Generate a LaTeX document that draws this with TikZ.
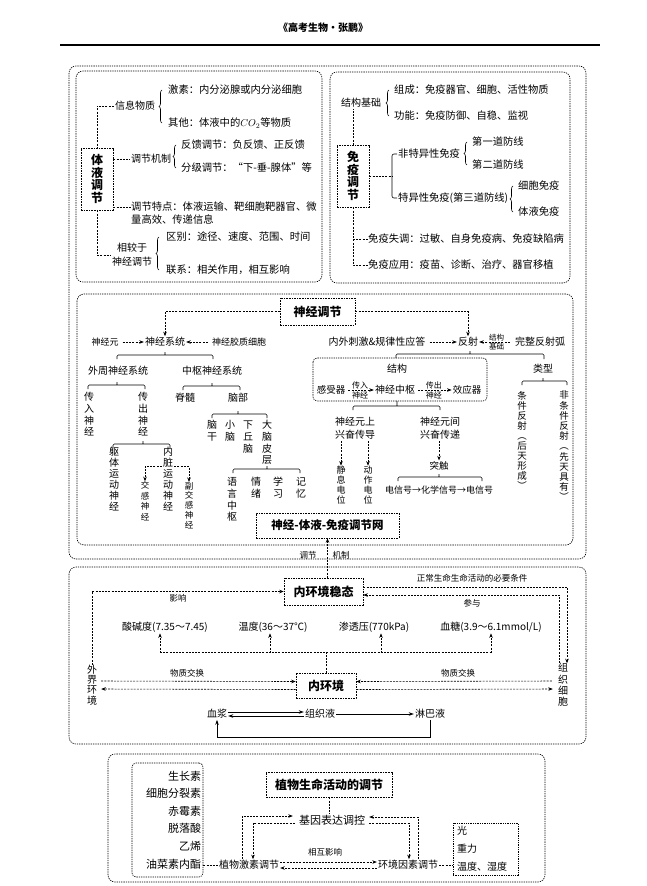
\documentclass[tikz,border=0pt]{standalone}
\usepackage{fontspec}
\setmainfont{Noto Sans CJK SC}
\usetikzlibrary{arrows.meta,decorations.pathreplacing,positioning}
\newcommand\fsz[2]{\fontsize{#1}{#2}\selectfont}

\begin{document}
\begin{tikzpicture}
            [
                x = 1pt, y = -1pt,
                every node/.style = {inner sep = 1pt, font = \fsz{10}{12}},
                frame/.style = {dash pattern = on 1.3pt off 1pt, line width = 0.6pt, rounded corners = 7pt},
                tbox/.style = {draw, dash pattern = on 1.6pt off 1pt, line width = 0.6pt,
                    font = \bfseries\fsz{12}{14}, inner sep = 0pt},
                vbox/.style = {tbox, align = center, minimum width = 32pt, minimum height = 62pt,
                    font = \bfseries\fsz{12}{12.5}},
                item/.style = {anchor = west, inner sep = 0pt, font = \fsz{10.3}{12}},
                vtext/.style = {align = center, inner sep = 0pt},
                small/.style = {font = \fsz{8.5}{10}},
                dline/.style = {dash pattern = on 2pt off 1.2pt, line width = 0.6pt},
                darrow/.style = {dline, -{Stealth[length = 4.5pt, width = 3.5pt]}},
                sarrow/.style = {line width = 0.7pt, -{Stealth[length = 5pt, width = 3.5pt]}},
                brak/.style = {line width = 0.6pt, rounded corners = 1.2pt},
                curly/.style = {line width = 0.6pt, decorate, decoration = {brace, amplitude = 3pt}},
            ]

                \useasboundingbox (0,0) rectangle (646,886);

                % header
                \node[font = \bfseries\fsz{10}{12}] (head) at (323,28) {《高考生物·张鹏》};
                \draw[line width = 1.1pt] (60,45) -- (600,45);

                % frames
                \draw[frame] (69,66) rectangle (586,559);
                \draw[frame] (76,71) rectangle (322,282);
                \draw[frame] (330,72) rectangle (570,283);
                \draw[frame] (77,294) rectangle (573,545);
                \draw[frame] (69,567) rectangle (586,744);
                \draw[frame] (108,754) rectangle (545,882);

                % humoral regulation
                \node[vbox] (tiye) at (97,179) {体\\液\\调\\节};
                \node (xinxi) at (135,106) {信息物质};
                \node[item] (jisu) at (168,90) {激素：内分泌腺或内分泌细胞};
                \node[item] (qita) at (168,123) {其他：体液中的$CO_2$等物质};
                \node (jizhi) at (151,159) {调节机制};
                \node[item] (fankui) at (181,145) {反馈调节：负反馈、正反馈};
                \node[item] (fenji) at (181,168) {分级调节：“下-垂-腺体”等};
                \node[item, align = left, font = \fsz{10.3}{13}] (tedian) at (131,213.5)
                    {调节特点：体液运输、靶细胞靶器官、微\\量高效、传递信息};
                \node[align = center, font = \fsz{10}{14}] (xiangjiao) at (132,255) {相较于\\神经调节};
                \node[item] (qubie) at (166,237) {区别：途径、速度、范围、时间};
                \node[item] (lianxi) at (166,270) {联系：相关作用，相互影响};

                \draw[dline] (xinxi.west) -| (tiye.north);
                \draw[dline] (tiye.east |- jizhi.west) -- (jizhi.west);
                \coordinate (tdl) at ([yshift = 6.5pt]tedian.west);
                \draw[dline] (tiye.east |- tdl) -- (tdl);
                \draw[dline] (tiye.south) |- (xiangjiao.west);
                \draw[curly] ([xshift = -6pt]qita.west) -- ([xshift = -6pt]jisu.west);
                \draw[curly] ([xshift = -5pt]fenji.west) -- ([xshift = -5pt]fankui.west);
                \draw[curly] ([xshift = -7pt]lianxi.west) -- ([xshift = -7pt]qubie.west);

                % immune regulation
                \node[vbox] (mianyi) at (353,176) {免\\疫\\调\\节};
                \node (jiegou) at (361,103) {结构基础};
                \node[item] (zucheng) at (394,90) {组成：免疫器官、细胞、活性物质};
                \node[item] (gongneng) at (394,116) {功能：免疫防御、自稳、监视};
                \node[item] (feite) at (398,154) {非特异性免疫};
                \node[item] (teyi) at (398,198) {特异性免疫(第三道防线)};
                \node[item] (diyi) at (472,142) {第一道防线};
                \node[item] (dier) at (472,165) {第二道防线};
                \node[item] (xibao) at (518,186) {细胞免疫};
                \node[item] (tiyemy) at (518,212) {体液免疫};
                \node[item] (shitiao) at (368,239) {免疫失调：过敏、自身免疫病、免疫缺陷病};
                \node[item] (yingyong) at (368,265) {免疫应用：疫苗、诊断、治疗、器官移植};

                \draw[dline] (mianyi.north) -- (mianyi.north |- jiegou.south);
                \draw[curly] ([xshift = -5pt]gongneng.west) -- ([xshift = -5pt]zucheng.west);
                \draw[dline] (mianyi.east) -- ++(23,0);
                \draw[brak, rounded corners = 2pt] ([xshift = -1pt]feite.west) -- ++(-5,0) |- ([xshift = -1pt]teyi.west);
                \draw[curly] ([xshift = -5pt]dier.west) -- ([xshift = -5pt]diyi.west);
                \draw[curly] ([xshift = -5pt]tiyemy.west) -- ([xshift = -5pt]xibao.west);
                \draw[dline] (mianyi.south) |- (yingyong.west);
                \draw[dline] (mianyi.south |- shitiao.west) -- (shitiao.west);

                % nervous regulation
                \node[tbox, minimum width = 75pt, minimum height = 27pt] (shenjing) at (317.5,311.5) {神经调节};
                \node (xitong) at (165,342) {神经系统};
                \node[font = \fsz{9}{11}] (yuan) at (105,342) {神经元};
                \node[font = \fsz{9}{11}] (jiaozhi) at (239,342) {神经胶质细胞};
                \node (ciji) at (377,342) {内外刺激\&规律性应答};
                \node (fanshe) at (468,342) {反射};
                \node (hu) at (540,342) {完整反射弧};

                \draw[darrow] (shenjing.west) -| (xitong.north);
                \draw[darrow] (shenjing.east) -| (fanshe.north);
                \draw[darrow, shorten <= 3pt] (yuan) -- (xitong);
                \draw[darrow, shorten <= 3pt] (jiaozhi) -- (xitong);
                \draw[darrow, shorten <= 3pt] (ciji) -- (fanshe);
                \draw[darrow, shorten <= 4pt] (hu) -- (fanshe)
                    node[midway, above, font = \fsz{7.5}{9}] (lbjg) {结构}
                    node[midway, below, font = \fsz{7.5}{9}] (lbjc) {基础};

                \node (waizhou) at (118,371) {外周神经系统};
                \node (zhongshu) at (212,371) {中枢神经系统};
                \draw[brak] (117,359) |- (213,355) -- (213,359) (165,355) -- (165,352);
                \draw[brak] (88,389) |- (145,385) -- (145,389) (117,385) -- (117,382);
                \draw[brak] (183,390) |- (240,386) -- (240,390) (212,386) -- (212,383);

                \node[vtext, font = \fsz{10}{11.7}] (chuanru) at (89,414.5) {传\\入\\神\\经};
                \node[vtext, font = \fsz{10}{11.7}] (chuanchu) at (143,414.5) {传\\出\\神\\经};
                \node (jisui) at (185,398) {脊髓};
                \node (naobu) at (238,398) {脑部};
                \draw[brak] (212,418) |- (267,414) -- (267,418) (238,414) -- (238,411);

                \node[vtext, font = \fsz{10}{12}] (naogan) at (212,431) {脑\\干};
                \node[vtext, font = \fsz{10}{12}] (xiaonao) at (230,431) {小\\脑};
                \node[vtext, font = \fsz{10}{12}] (xiaqiu) at (248,437) {下\\丘\\脑};
                \node[vtext, font = \fsz{10}{11.7}] (danao) at (267,442.5) {大\\脑\\皮\\层};
                \draw[brak] (233,473) |- (300,469) -- (300,473) (267,469) -- (267,466);
                \node[vtext, font = \fsz{10}{11.7}] (yuyan) at (232,499.5) {语\\言\\中\\枢};
                \node[vtext, font = \fsz{10}{12}] (qingxu) at (256,488) {情\\绪};
                \node[vtext, font = \fsz{10}{12}] (xuexi) at (278,488) {学\\习};
                \node[vtext, font = \fsz{10}{12}] (jiyi) at (301,488) {记\\忆};

                \draw[brak] (113,448) |- (170,444) -- (170,448) (143,444) -- (143,441);
                \node[vtext, font = \fsz{10}{11}] (quti) at (114,479.5) {躯\\体\\运\\动\\神\\经};
                \node[vtext, font = \fsz{10}{11}] (neizang) at (168,479.5) {内\\脏\\运\\动\\神\\经};
                \node[vtext, font = \fsz{8.5}{10.5}] (jiaogan) at (145,501) {交\\感\\神\\经};
                \node[vtext, font = \fsz{8.5}{9.8}] (fujiaogan) at (189,505.5) {副\\交\\感\\神\\经};
                \draw[darrow] ([yshift = 13pt, xshift = -1pt]neizang.west) -| (jiaogan.north);
                \draw[darrow] ([yshift = 13pt, xshift = 1pt]neizang.east) -| (fujiaogan.north);

                \node[tbox, minimum width = 143pt, minimum height = 25pt, font = \bfseries\fsz{11.5}{13}] (wang)
                    at (327.5,525.5) {神经-体液-免疫调节网};

                % reflex arc
                \draw[frame, rounded corners = 4pt] (313,358) rectangle (487,401);
                \draw[brak] (396,358) |- (544,354) -- (544,359) (470,354) -- (470,351);
                \node (jg) at (397,369) {结构};
                \node[font = \fsz{9.5}{11}] (ganshou) at (331,390) {感受器};
                \node (zs2) at (395,390) {神经中枢};
                \node[font = \fsz{9.5}{11}] (xiaoying) at (467,390) {效应器};
                \draw[darrow, shorten <= 2pt] (ganshou) -- (zs2)
                    node[midway, above, font = \fsz{8}{9}] (lbcr) {传入}
                    node[midway, below, font = \fsz{8}{9}] (lbsj1) {神经};
                \draw[darrow, shorten <= 2pt] (zs2) -- (xiaoying)
                    node[midway, above, font = \fsz{8}{9}] (lbcc) {传出}
                    node[midway, below, font = \fsz{8}{9}] (lbsj2) {神经};
                \node (leixing) at (543,369) {类型};
                \draw[brak] (522,385) |- (567,381) -- (567,385) (543,381) -- (543,378);
                \node[vtext, font = \fsz{9.5}{9.9}] (tiaojian) at (522,440.5) {条\\件\\反\\射\\︵\\后\\天\\形\\成\\︶};
                \node[vtext, font = \fsz{9.5}{10.2}] (feitiao) at (564,446) {非\\条\\件\\反\\射\\︵\\先\\天\\具\\有\\︶};

                \draw[brak] (353,410) |- (440,406) -- (440,410) (397,406) -- (397,401);
                \node[align = center, font = \fsz{10}{13}] (shangchuan) at (355,428.5) {神经元上\\兴奋传导};
                \node[align = center, font = \fsz{10}{13}] (jianchuan) at (440,428.5) {神经元间\\兴奋传递};
                \node[vtext, font = \fsz{9}{10}] (jingxi) at (341,485) {静\\息\\电\\位};
                \node[vtext, font = \fsz{9}{10}] (dongzuo) at (368,485) {动\\作\\电\\位};
                \draw[darrow] (shangchuan.south -| jingxi) -- (jingxi.north);
                \draw[darrow] (shangchuan.south -| dongzuo) -- (dongzuo.north);
                \node[font = \fsz{9.5}{11}] (tuchu) at (439,466) {突触};
                \draw[darrow] (jianchuan.south -| tuchu) -- (tuchu.north);
                \draw[brak] (398,481) |- (482,477) -- (482,481) (439,477) -- (439,474);
                \node[font = \fsz{9}{11}] (xinhao) at (439,490) {电信号→化学信号→电信号};

                % internal environment
                \node[tbox, minimum width = 79pt, minimum height = 27pt] (wentai) at (323.5,591.5) {内环境稳态};
                \node[tbox, minimum width = 60pt, minimum height = 25pt] (neihj) at (326,685.5) {内环境};
                \node[vtext, font = \fsz{10}{10.3}] (waijie) at (92,685) {外\\界\\环\\境};
                \node[vtext, font = \fsz{10}{11.3}] (zuzhi) at (563,685) {组\\织\\细\\胞};

                \draw[darrow] (wang.south |- wentai.north) -- (wang.south);
                \node[small] (lbtj) at (308,555) {调节};
                \node[small] (lbjz) at (341,555) {机制};

                \draw[darrow] (waijie.north) |- (wentai.west);
                \node[small] (yingxiang) at (178,598) {影响};
                \coordinate (zr) at ([xshift = 4pt]zuzhi.north);
                \coordinate (zl) at ([xshift = -4pt]zuzhi.north);
                \draw[darrow] ([yshift = 4.5pt]wentai.east) -| (zr);
                \draw[darrow] (zl) |- ([yshift = -3.5pt]wentai.east);
                \node[small] (biyao) at (472,578) {正常生命生命活动的必要条件};
                \node[small] (canyu) at (472,603) {参与};

                \node (suanjian) at (165,627) {酸碱度(7.35～7.45)};
                \node (wendu) at (273,627) {温度(36～37℃)};
                \node (shentou) at (374,627) {渗透压(770kPa)};
                \node (xuetang) at (491,627) {血糖(3.9～6.1mmol/L)};
                \draw[dline] (neihj.north) -- ++(0,-20) coordinate (mj);
                \draw[dline] ([xshift = -5pt]suanjian.south |- mj) -- (xuetang.south |- mj);
                \draw[darrow] ([xshift = -5pt]suanjian.south |- mj) -- ([xshift = -5pt]suanjian.south);
                \draw[darrow] ([xshift = -3pt]wendu.south |- mj) -- ([xshift = -3pt]wendu.south);
                \draw[darrow] ([xshift = 7pt]shentou.south |- mj) -- ([xshift = 7pt]shentou.south);
                \draw[darrow] (xuetang.south |- mj) -- (xuetang.south);

                \draw[darrow, shorten <= 4pt] ([yshift = 4pt]waijie.east) -- ([yshift = 4pt]neihj.west);
                \draw[darrow, shorten > = 4pt] ([yshift = -4pt]neihj.west) -- ([yshift = -4pt]waijie.east);
                \draw[darrow, shorten <= 6pt] ([yshift = 4pt]zuzhi.west) -- ([yshift = 4pt]neihj.east);
                \draw[darrow, shorten > = 5pt] ([yshift = -4pt]neihj.east) -- ([yshift = -4pt]zuzhi.west);
                \node[small] (jiaohuan1) at (187,673) {物质交换};
                \node[small] (jiaohuan2) at (458,673) {物质交换};

                \node (xuejiang) at (217,714) {血浆};
                \node (zuzhiye) at (320,714) {组织液};
                \node (linba) at (430,714) {淋巴液};
                \draw[sarrow] ([yshift = 2pt]xuejiang.east) -- ([yshift = 2pt]zuzhiye.west);
                \draw[sarrow] ([yshift = -2pt]zuzhiye.west) -- ([yshift = -2pt]xuejiang.east);
                \draw[sarrow] (zuzhiye) -- (linba);
                \draw[sarrow, line width = 0.9pt] (linba.south) -- ++(0,18) -| (xuejiang.south);

                % plant regulation
                \node[draw, dash pattern = on 1.3pt off 1pt, line width = 0.6pt, rounded corners = 4pt,
                    align = right, text width = 67pt, minimum height = 114pt, inner xsep = 2pt,
                    font = \fsz{11}{17.6}] (jisulist) at (167.5,820)
                    {生长素\\细胞分裂素\\赤霉素\\脱落酸\\乙烯\\油菜素内酯};
                \node[tbox, minimum width = 126pt, minimum height = 25pt] (zhiwu) at (329,784.5) {植物生命活动的调节};
                \node[font = \fsz{11}{13}] (jiyin) at (332,820) {基因表达调控};
                \node (jisutj) at (249,865) {植物激素调节};
                \node (huanjing) at (408,865) {环境因素调节};
                \node[draw, dash pattern = on 1.3pt off 1pt, line width = 0.6pt, align = left,
                    text width = 57pt, minimum height = 52pt, inner xsep = 4pt,
                    font = \fsz{10}{18}] (yinsu) at (485.5,849) {光\\重力\\温度、湿度};

                \draw[dline] (zhiwu.south) -- (zhiwu.south |- jiyin.north);
                \draw[dline] (jisulist.east |- jisutj) -- (jisutj.west);
                \draw[dline] (huanjing.east) -- (yinsu.west |- huanjing);
                \draw[darrow] ([yshift = 3pt]jisutj.east) -- ([yshift = 3pt]huanjing.west);
                \draw[darrow] ([yshift = -3pt]huanjing.west) -- ([yshift = -3pt]jisutj.east);
                \node[small] (xianghu) at (325,852) {相互影响};
                \draw[darrow, shorten > = 5pt] ([xshift = -7pt]jisutj.north) |- ([yshift = 4pt]jiyin.west);
                \draw[darrow, shorten < = 3pt] ([yshift = -3pt]jiyin.west) -| ([xshift = 4pt]jisutj.north);
                \draw[darrow, shorten > = 3pt] ([xshift = 10pt]huanjing.north) |- ([yshift = 3pt]jiyin.east);
                \draw[darrow, shorten < = 3pt] ([yshift = -3pt]jiyin.east) -| ([xshift = 1pt]huanjing.north);
            \end{tikzpicture}
\end{document}
